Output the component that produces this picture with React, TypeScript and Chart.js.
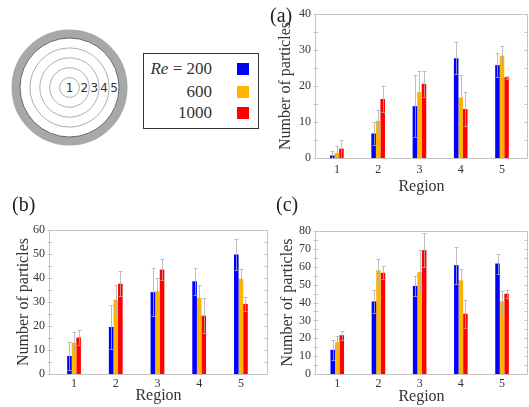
import React, { useEffect, useRef } from 'react';
import { Chart, registerables } from 'chart.js';

Chart.register(...registerables);

// ---------- data ----------
const regions = [1, 2, 3, 4, 5];
const reLabels = ['200', '600', '1000'];
const seriesColors = ['#0000FF', '#FFB400', '#FF0000'];
const ringLabels = ['1', '2', '3', '4', '5'];

// panel (a)
const aRe200 = [0.7, 6.8, 14.4, 27.7, 25.8];
const aRe600 = [1.4, 10.3, 18.3, 16.8, 28.4];
const aRe1000 = [2.6, 16.4, 20.6, 13.6, 22.4];
const aRe200Err = [1.3, 3.2, 8.6, 4.4, 3.3];
const aRe600Err = [1.9, 3.0, 5.9, 6.2, 2.6];
const aRe1000Err = [2.5, 3.6, 3.6, 4.6, 0.4];
const aTicks = [0, 10, 20, 30, 40];

// panel (b)
const bRe200 = [7.5, 19.6, 34.1, 38.6, 49.8];
const bRe600 = [13.0, 30.9, 34.5, 31.7, 39.7];
const bRe1000 = [15.2, 37.6, 43.5, 24.3, 29.2];
const bRe200Err = [5.8, 9.2, 10.1, 5.6, 6.3];
const bRe600Err = [4.3, 6.0, 5.6, 5.2, 4.2];
const bRe1000Err = [3.0, 5.3, 4.5, 7.4, 2.8];
const bTicks = [0, 10, 20, 30, 40, 50, 60];

// panel (c)
const cRe200 = [13.5, 40.6, 49.3, 60.9, 61.8];
const cRe600 = [17.8, 58.0, 57.1, 52.4, 40.6];
const cRe1000 = [21.7, 56.6, 69.3, 33.7, 44.9];
const cRe200Err = [5.6, 6.2, 5.4, 10.3, 5.6];
const cRe600Err = [3.4, 6.6, 12.0, 6.2, 5.7];
const cRe1000Err = [2.6, 3.7, 9.4, 7.9, 2.3];
const cTicks = [0, 10, 20, 30, 40, 50, 60, 70, 80];

const yTitle = 'Number of particles';
const xTitle = 'Region';

// ---------- layout ----------
const SERIF = "'Liberation Serif', 'Times New Roman', serif";
const TEXT = '#333333';

const panels = [
  {
    tag: '(a)', series: [aRe200, aRe600, aRe1000], errors: [aRe200Err, aRe600Err, aRe1000Err], yTicks: aTicks,
    box: { left: 263, top: 0, width: 266, height: 200 }, padTop: 14, padRight: 1,
    yWidth: 52, xHeight: 42, xMin: 0.47, xMax: 5.63, yTitlePad: 13, xTickPad: 5, xTitlePad: 4,
    tagPos: { left: 270, top: 5 },
  },
  {
    tag: '(b)', series: [bRe200, bRe600, bRe1000], errors: [bRe200Err, bRe600Err, bRe1000Err], yTicks: bTicks,
    box: { left: 0, top: 200, width: 275, height: 207 }, padTop: 30, padRight: 7,
    yWidth: 49, xHeight: 33, xMin: 0.4, xMax: 5.65, yTitlePad: 14, xTickPad: 3, xTitlePad: 2,
    tagPos: { left: 12, top: 194 },
  },
  {
    tag: '(c)', series: [cRe200, cRe600, cRe1000], errors: [cRe200Err, cRe600Err, cRe1000Err], yTicks: cTicks,
    box: { left: 263, top: 200, width: 266, height: 207 }, padTop: 31, padRight: 1,
    yWidth: 52, xHeight: 33, xMin: 0.46, xMax: 5.63, yTitlePad: 15, xTickPad: 3, xTitlePad: 1,
    tagPos: { left: 276, top: 194 },
  },
];

// ---------- plugins ----------
const framePlugin = {
  id: 'frame',
  beforeDatasetsDraw(chart: any) {
    const { ctx, chartArea } = chart;
    const { left, right, top, bottom } = chartArea;
    const ys = chart.scales.y;
    ctx.save();
    ctx.strokeStyle = '#c4c4c4';
    ctx.lineWidth = 1;
    const l = Math.round(left) + 0.5;
    const r = Math.round(right) - 0.5;
    const t = Math.round(top) + 0.5;
    const b = Math.round(bottom) + 0.5;
    ctx.beginPath();
    ctx.moveTo(l, t); ctx.lineTo(r, t); ctx.lineTo(r, b); ctx.lineTo(l, b); ctx.closePath();
    ctx.stroke();
    // major + minor ticks on left and right sides, pointing inward
    const tks = ys.ticks.map((t: any) => t.value);
    const vals: number[] = [];
    for (let i = 0; i < tks.length; i++) {
      vals.push(tks[i]);
      if (i < tks.length - 1) vals.push((tks[i] + tks[i + 1]) / 2);
    }
    ctx.beginPath();
    vals.forEach((v) => {
      const py = Math.round(ys.getPixelForValue(v)) + 0.5;
      ctx.moveTo(l - 2, py); ctx.lineTo(l + 3, py);
      ctx.moveTo(r - 3, py); ctx.lineTo(r, py);
    });
    ctx.stroke();
    ctx.restore();
  },
};

const errorBarPlugin = {
  id: 'errorBars',
  afterDatasetsDraw(chart: any) {
    const { ctx } = chart;
    const ys = chart.scales.y;
    ctx.save();
    ctx.strokeStyle = 'rgba(175,175,175,0.8)';
    ctx.lineWidth = 1;
    chart.data.datasets.forEach((ds: any, di: number) => {
      const meta = chart.getDatasetMeta(di);
      meta.data.forEach((bar: any, i: number) => {
        const v = ds.data[i].y;
        const e = ds.errors[i];
        const x = Math.round(bar.x) + 0.5;
        const yt = Math.round(ys.getPixelForValue(v + e)) + 0.5;
        const yb = Math.round(ys.getPixelForValue(Math.max(0, v - e))) + 0.5;
        ctx.beginPath();
        ctx.moveTo(x, yt); ctx.lineTo(x, yb);
        ctx.moveTo(x - 2, yt); ctx.lineTo(x + 2, yt);
        ctx.moveTo(x - 2, yb); ctx.lineTo(x + 2, yb);
        ctx.stroke();
      });
    });
    ctx.restore();
  },
};

function Panel({ p }: { p: any }) {
  const ref = useRef<HTMLCanvasElement | null>(null);
  useEffect(() => {
    if (!ref.current) return;
    const tickFont = { family: SERIF, size: 12 };
    const titleFont = { family: SERIF, size: 16 };
    const chart = new Chart(ref.current, {
      type: 'bar',
      data: {
        datasets: p.series.map((vals: number[], i: number) => ({
          label: reLabels[i],
          data: regions.map((r, j) => ({ x: r, y: vals[j] })),
          errors: p.errors[i],
          backgroundColor: seriesColors[i],
          borderWidth: 0,
          categoryPercentage: 0.33,
          barPercentage: 1,
        })),
      },
      options: {
        animation: false,
        responsive: false,
        devicePixelRatio: 1,
        layout: { padding: { top: p.padTop, right: p.padRight, left: 0, bottom: 0 } },
        plugins: { legend: { display: false }, tooltip: { enabled: false } },
        scales: {
          x: {
            type: 'linear',
            offset: false,
            min: p.xMin,
            max: p.xMax,
            afterBuildTicks: (s: any) => { s.ticks = regions.map((v) => ({ value: v })); },
            afterFit: (s: any) => { s.height = p.xHeight; },
            grid: { display: false, drawTicks: false },
            border: { display: false },
            ticks: { font: tickFont, color: TEXT, padding: p.xTickPad, autoSkip: false, maxRotation: 0, callback: (v: any) => String(v) },
            title: { display: true, text: xTitle, font: titleFont, color: TEXT, padding: { top: 0, bottom: p.xTitlePad } },
          },
          y: {
            min: 0,
            max: p.yTicks[p.yTicks.length - 1],
            afterBuildTicks: (s: any) => { s.ticks = p.yTicks.map((v: number) => ({ value: v })); },
            afterFit: (s: any) => { s.width = p.yWidth; },
            grid: { display: false, drawTicks: false },
            border: { display: false },
            ticks: { font: tickFont, color: TEXT, padding: 4 },
            title: { display: true, text: yTitle, font: titleFont, color: TEXT, padding: { top: p.yTitlePad, bottom: 0 } },
          },
        },
      } as any,
      plugins: [framePlugin, errorBarPlugin],
    } as any);
    return () => chart.destroy();
  }, [p]);
  return (
    <>
      <canvas
        ref={ref}
        width={p.box.width}
        height={p.box.height}
        style={{ position: 'absolute', left: p.box.left, top: p.box.top, width: p.box.width, height: p.box.height, display: 'block' }}
      />
      <div style={{ position: 'absolute', left: p.tagPos.left, top: p.tagPos.top, fontFamily: SERIF, fontSize: 20, lineHeight: '20px', color: '#222', whiteSpace: 'nowrap' }}>
        {p.tag}
      </div>
    </>
  );
}

function RingDiagram() {
  const cx = 69.5, cy = 87.5, outer = 58, inner = 49.5;
  const step = inner / ringLabels.length;
  return (
    <svg style={{ position: 'absolute', left: 0, top: 0 }} width={140} height={150}>
      <circle cx={cx} cy={cy} r={(outer + inner) / 2} fill="none" stroke="#a8a8a8" strokeWidth={outer - inner} />
      {ringLabels.slice(0, -1).map((_, k) => (
        <circle key={k} cx={cx} cy={cy} r={step * (k + 1)} fill="none" stroke="#9a9a9a" strokeWidth={0.8} />
      ))}
      <circle cx={cx} cy={cy} r={inner} fill="none" stroke="#666" strokeWidth={1} />
      {ringLabels.map((t, k) => (
        <text key={t} x={k === 0 ? cx : cx + step * (k + 0.5)} y={cy} fontFamily="'DejaVu Sans', sans-serif" fontSize={12}
          fill="#333" textAnchor="middle" dominantBaseline="central">{t}</text>
      ))}
    </svg>
  );
}

function LegendBox() {
  const rowsY = [69, 92, 113];
  return (
    <>
      <div style={{ position: 'absolute', left: 143, top: 53, width: 116, height: 76, border: '1.5px solid #333', boxSizing: 'border-box' }} />
      {reLabels.map((lab, i) => (
        <React.Fragment key={lab}>
          <div style={{ position: 'absolute', left: 143, width: 69, top: rowsY[i] - 10, height: 20, lineHeight: '20px', textAlign: 'right', fontFamily: SERIF, fontSize: 17, color: TEXT, whiteSpace: 'nowrap' }}>
            {i === 0 ? (<><i>Re</i>{' = '}</>) : null}{lab}
          </div>
          <div style={{ position: 'absolute', left: 237, top: rowsY[i] - 6, width: 12, height: 12, background: seriesColors[i] }} />
        </React.Fragment>
      ))}
    </>
  );
}

export default function App() {
  return (
    <div style={{ position: 'absolute', left: 0, top: 0, width: 529, height: 407, background: '#fff', overflow: 'hidden' }}>
      <RingDiagram />
      <LegendBox />
      {panels.map((p) => <Panel key={p.tag} p={p} />)}
    </div>
  );
}
